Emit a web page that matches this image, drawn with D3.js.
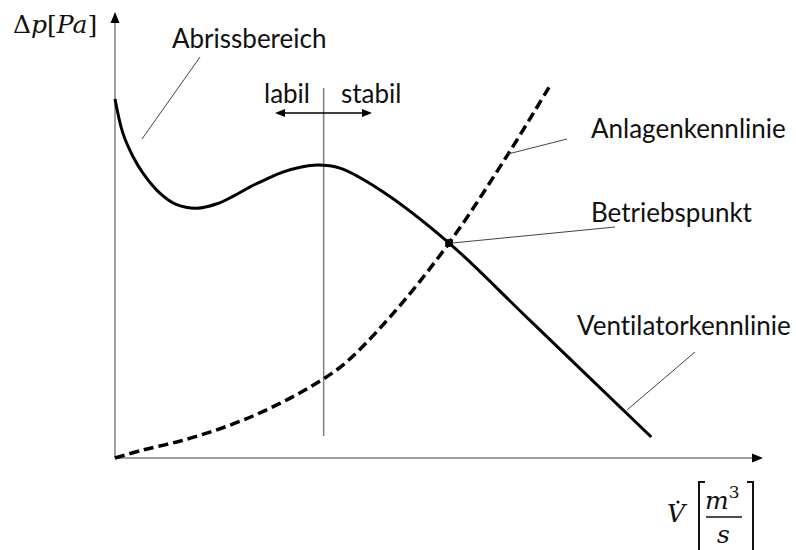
<!DOCTYPE html>
<html>
<head>
<meta charset="utf-8">
<script src="https://cdn.jsdelivr.net/npm/d3@7"></script>
<style>
  body { margin: 0; background: #fff; }
  svg { display: block; }
  .lbl { font-family: Lato, "Open Sans", sans-serif; font-size: 26px; fill: #111; font-variant-ligatures: none; }
  .math { font-family: "DejaVu Serif", "Liberation Serif", serif; fill: #111; }
</style>
</head>
<body>
<svg id="chart"></svg>
<script>
// Ventilatorkennlinie (fan curve), volume flow vs pressure, relative units 0..100
const fanFlow     = [0, 1.2, 2.8, 4.3, 6.9, 9.5, 12.6, 15.7, 18.2, 20.8, 23.4, 25.8, 28.5, 31.2, 34.6, 40.8, 51.4, 63.8, 82.5];
const fanPressure = [80.5, 72.9, 67.5, 63.9, 59.4, 56.8, 56.0, 57.0, 58.7, 60.8, 62.6, 64.1, 65.2, 65.7, 65.0, 60.1, 48.2, 30.9, 4.7];

// Anlagenkennlinie (system curve)
const sysFlow     = [0, 4.3, 9.5, 14.6, 19.7, 24.9, 30.0, 35.1, 42.3, 51.4, 60.5, 67.1];
const sysPressure = [0, 1.8, 3.6, 5.8, 8.5, 11.9, 15.9, 20.9, 31.6, 48.2, 68.2, 83.9];

// Betriebspunkt and stability limit
const opPoint = [51.4, 48.2];
const stabilityFlow = 32.1;

const width = 796, height = 550;
const svg = d3.select("#chart").attr("width", width).attr("height", height);

const x = d3.scaleLinear().domain([0, 100]).range([115, 765]);
const y = d3.scaleLinear().domain([0, 100]).range([458, 12]);

const gray = "#7f7f7f";

// axes
svg.append("line")
    .attr("x1", x(0)).attr("y1", y(0))
    .attr("x2", x(0)).attr("y2", y(100) + 9)
    .attr("stroke", gray).attr("stroke-width", 1.5);
svg.append("path")
    .attr("d", `M${x(0)},${y(100)} L${x(0) - 4.5},${y(100) + 11} L${x(0) + 4.5},${y(100) + 11} Z`)
    .attr("fill", "#000");

svg.append("line")
    .attr("x1", x(0)).attr("y1", y(0))
    .attr("x2", x(100) - 10).attr("y2", y(0))
    .attr("stroke", gray).attr("stroke-width", 1.5);
svg.append("path")
    .attr("d", `M${x(100) - 2},${y(0)} L${x(100) - 13},${y(0) - 4.5} L${x(100) - 13},${y(0) + 4.5} Z`)
    .attr("fill", "#000");

// stability limit line and labil/stabil arrow
const sx = x(stabilityFlow);
svg.append("line")
    .attr("x1", sx).attr("y1", 88).attr("x2", sx).attr("y2", 436)
    .attr("stroke", gray).attr("stroke-width", 1.5);
svg.append("line")
    .attr("x1", 282).attr("y1", 113).attr("x2", 365).attr("y2", 113)
    .attr("stroke", "#000").attr("stroke-width", 1.3);
svg.append("path").attr("d", "M275,113 L285,109 L285,117 Z").attr("fill", "#000");
svg.append("path").attr("d", "M372,113 L362,109 L362,117 Z").attr("fill", "#000");

const line = d3.line()
    .x(d => x(d[0]))
    .y(d => y(d[1]))
    .curve(d3.curveCatmullRom.alpha(0.5));

// system curve (dashed)
svg.append("path")
    .datum(d3.zip(sysFlow, sysPressure))
    .attr("d", line)
    .attr("fill", "none")
    .attr("stroke", "#000")
    .attr("stroke-width", 3.5)
    .attr("stroke-dasharray", "10,5");

// fan curve
svg.append("path")
    .datum(d3.zip(fanFlow, fanPressure))
    .attr("d", line)
    .attr("fill", "none")
    .attr("stroke", "#000")
    .attr("stroke-width", 3);

// operating point
svg.append("circle")
    .attr("cx", x(opPoint[0])).attr("cy", y(opPoint[1]))
    .attr("r", 4).attr("fill", "#000");

// leader lines
const leaders = [
    [200, 57, 142, 139],
    [567, 139, 508, 154],
    [615, 227, x(opPoint[0]) + 3, y(opPoint[1])],
    [695, 352, 627, 410]
];
svg.selectAll(".leader")
    .data(leaders)
    .enter()
    .append("line")
    .attr("class", "leader")
    .attr("x1", d => d[0]).attr("y1", d => d[1])
    .attr("x2", d => d[2]).attr("y2", d => d[3])
    .attr("stroke", "#444").attr("stroke-width", 1);

// labels
const labels = [
    ["Abrissbereich", 172, 48],
    ["labil", 264, 103],
    ["stabil", 341, 103],
    ["Anlagenkennlinie", 591, 138],
    ["Betriebspunkt", 591, 222],
    ["Ventilatorkennlinie", 577, 335]
];
svg.selectAll(".lbl")
    .data(labels)
    .enter()
    .append("text")
    .attr("class", "lbl")
    .attr("x", d => d[1]).attr("y", d => d[2])
    .text(d => d[0]);

// y axis title: Δp[Pa]
const yt = svg.append("text").attr("class", "math")
    .attr("x", 13).attr("y", 33).style("font-size", "25px");
yt.append("tspan").text("Δ");
yt.append("tspan").style("font-style", "italic").text("p");
yt.append("tspan").text("[");
yt.append("tspan").style("font-style", "italic").text("Pa");
yt.append("tspan").text("]");

// x axis title: V̇ [m³/s]
svg.append("text").attr("class", "math")
    .attr("x", 667).attr("y", 522)
    .style("font-size", "25px").style("font-style", "italic")
    .text("V");
svg.append("circle").attr("cx", 678).attr("cy", 502).attr("r", 1.6).attr("fill", "#111");

svg.append("path")
    .attr("d", "M705,482 L699,482 L699,552 M747,482 L753,482 L753,552")
    .attr("fill", "none").attr("stroke", "#111").attr("stroke-width", 2);
const num = svg.append("text").attr("class", "math")
    .attr("x", 705).attr("y", 509).style("font-size", "25px");
num.append("tspan").style("font-style", "italic").text("m");
num.append("tspan").attr("dy", -11).style("font-size", "17px").text("3");
svg.append("line")
    .attr("x1", 706).attr("y1", 517).attr("x2", 742).attr("y2", 517)
    .attr("stroke", "#111").attr("stroke-width", 1.3);
svg.append("text").attr("class", "math")
    .attr("x", 717).attr("y", 543)
    .style("font-size", "25px").style("font-style", "italic")
    .text("s");
</script>
</body>
</html>
